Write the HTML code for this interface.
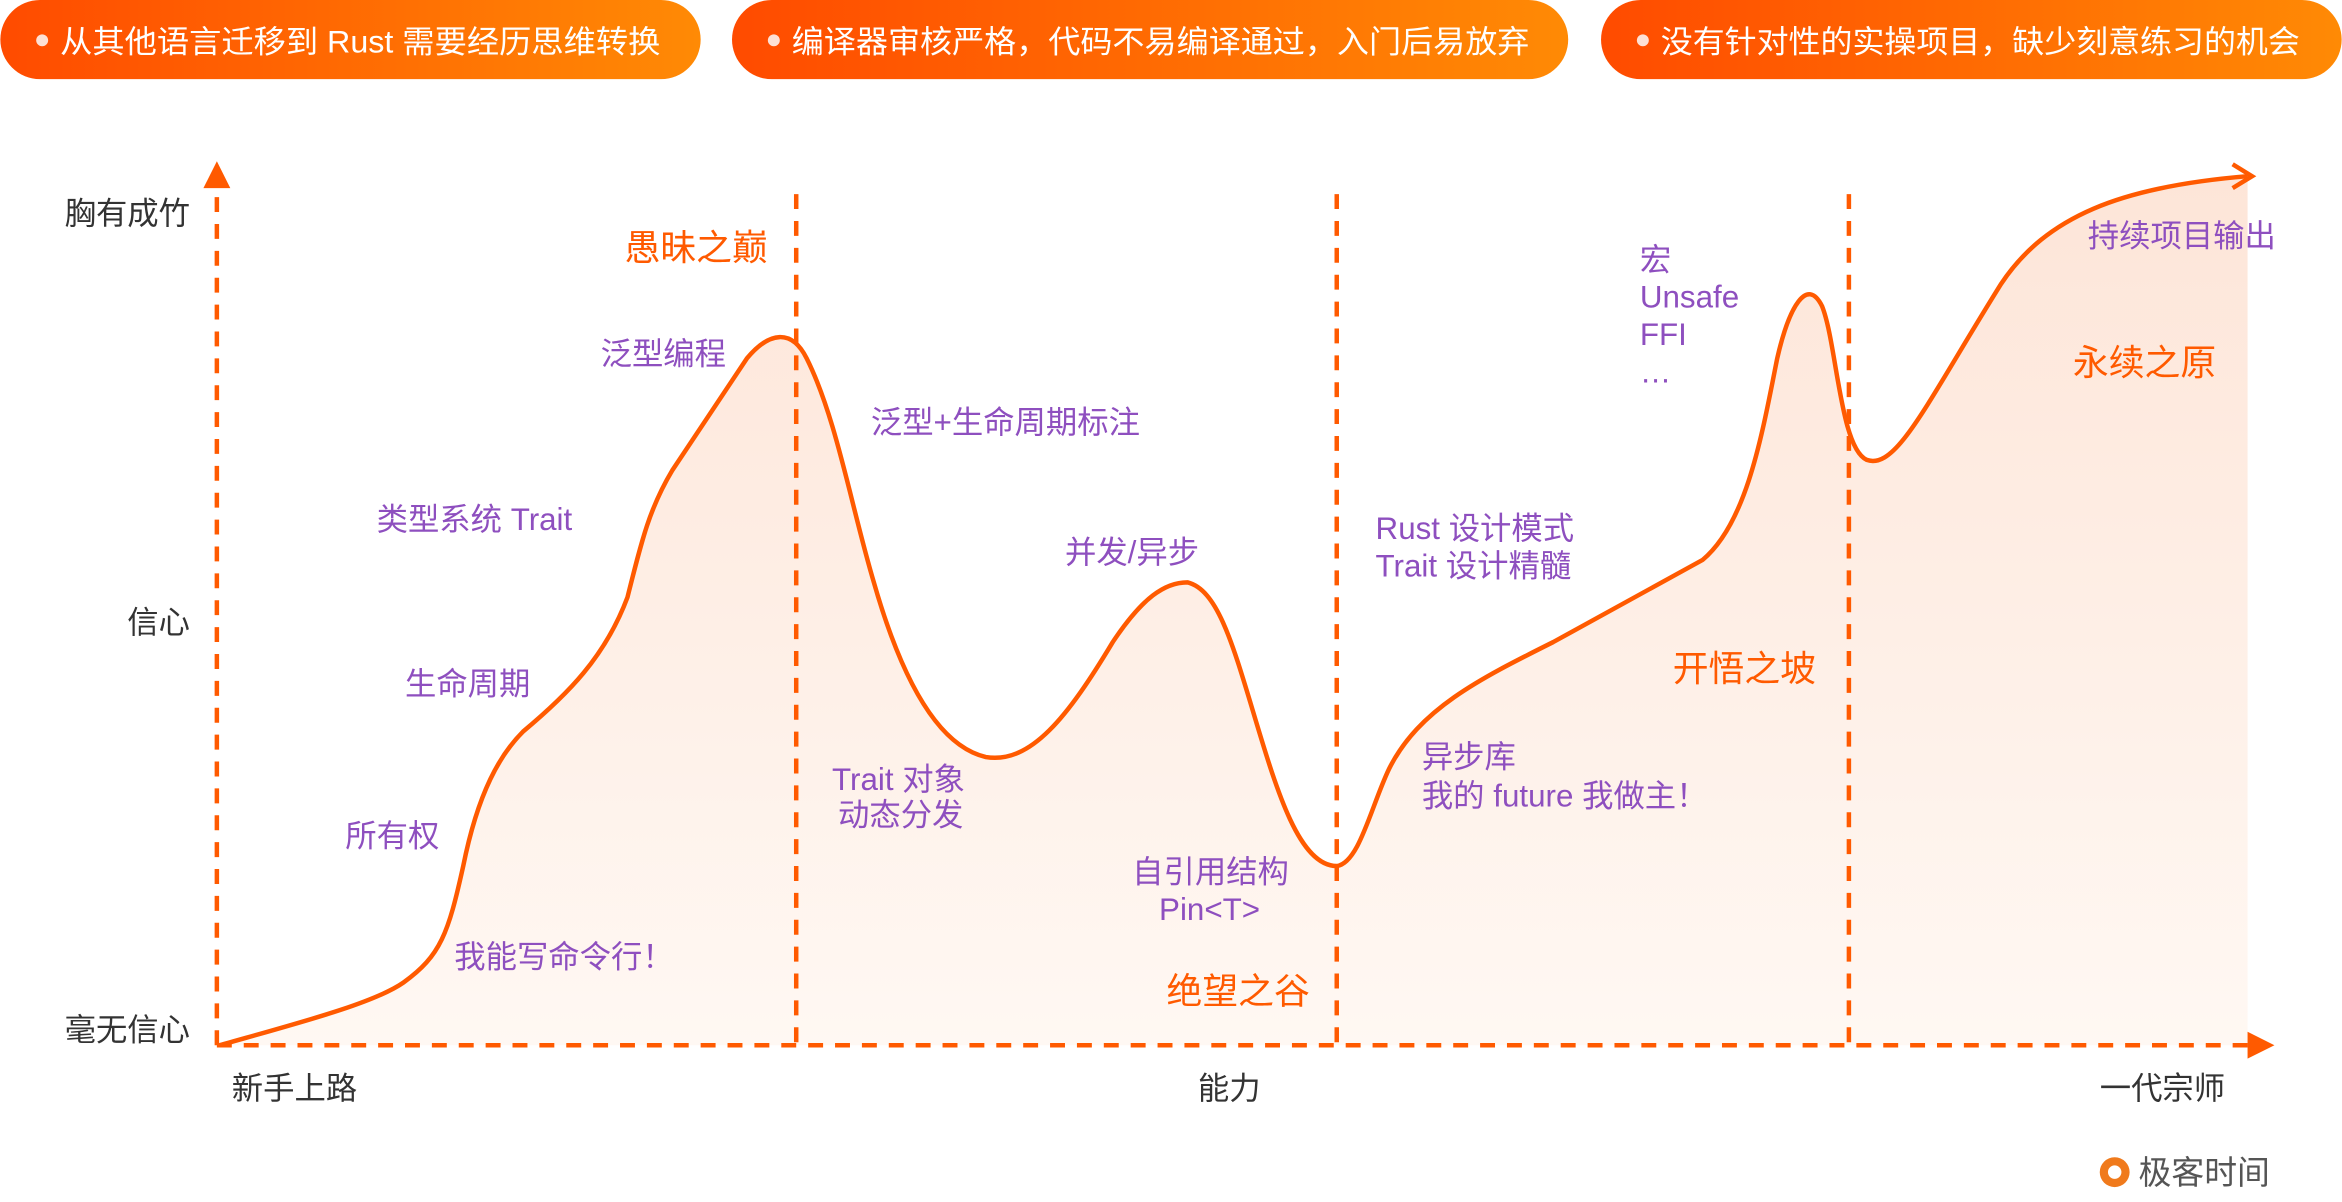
<!DOCTYPE html>
<html><head><meta charset="utf-8"><style>
html,body{margin:0;padding:0;background:#fff}
svg{display:block}
text{font-family:"Liberation Sans","Noto Sans CJK SC",sans-serif}
</style></head><body>
<svg width="2342" height="1202" viewBox="0 0 1568 805" xmlns="http://www.w3.org/2000/svg">
<defs>
<linearGradient id="pg" x1="0" x2="1" y1="0" y2="0"><stop offset="0" stop-color="#ff4b00"/><stop offset="1" stop-color="#ff8a05"/></linearGradient>
<linearGradient id="fg" x1="0" x2="0" y1="0" y2="1"><stop offset="0" stop-color="#fde5d8"/><stop offset="1" stop-color="#fff8f3"/></linearGradient>
</defs>
<rect x="0" y="0" width="469" height="53" rx="26.5" fill="url(#pg)"/>
<rect x="490" y="0" width="560" height="53" rx="26.5" fill="url(#pg)"/>
<rect x="1072" y="0" width="496" height="53" rx="26.5" fill="url(#pg)"/>
<g fill="#fde0d5"><circle cx="28" cy="27" r="4"/><circle cx="518" cy="27" r="4"/><circle cx="1100" cy="27" r="4"/></g>
<g fill="#fff" font-size="21"><text x="40" y="35" textLength="402" lengthAdjust="spacingAndGlyphs">从其他语言迁移到 Rust 需要经历思维转换</text><text x="530" y="35" textLength="494" lengthAdjust="spacingAndGlyphs">编译器审核严格，代码不易编译通过，入门后易放弃</text><text x="1112" y="35" textLength="428" lengthAdjust="spacingAndGlyphs">没有针对性的实操项目，缺少刻意练习的机会</text></g>
<path d="M147,700 C200,685 250,672 270,658 C295,640 300,625 310,580 C320,530 335,505 350,490 C380,465 405,440 420,400 C430,360 435,340 450,315 L500,240 C515,222 530,220 540,240 C560,280 570,340 585,390 C605,460 630,500 660,507 C690,512 715,480 745,430 C765,400 780,390 795,390 C815,395 825,430 840,480 C855,530 870,580 895,580 C910,578 918,540 930,515 C950,475 990,455 1040,430 L1140,375 C1170,350 1180,290 1190,240 C1198,205 1210,185 1220,205 C1230,230 1232,300 1250,308 C1270,315 1290,270 1340,190 C1370,145 1420,125 1505,118 L1505,700 L147,700 Z" fill="url(#fg)"/>
<path d="M147,700 C200,685 250,672 270,658 C295,640 300,625 310,580 C320,530 335,505 350,490 C380,465 405,440 420,400 C430,360 435,340 450,315 L500,240 C515,222 530,220 540,240 C560,280 570,340 585,390 C605,460 630,500 660,507 C690,512 715,480 745,430 C765,400 780,390 795,390 C815,395 825,430 840,480 C855,530 870,580 895,580 C910,578 918,540 930,515 C950,475 990,455 1040,430 L1140,375 C1170,350 1180,290 1190,240 C1198,205 1210,185 1220,205 C1230,230 1232,300 1250,308 C1270,315 1290,270 1340,190 C1370,145 1420,125 1505,118" fill="none" stroke="#ff5a00" stroke-width="3"/>
<path d="M1495,110 L1508,118 L1495,126" fill="none" stroke="#ff5a00" stroke-width="3"/>
<g stroke="#ff5a00" stroke-width="3" stroke-dasharray="10,8" fill="none">
<line x1="145" y1="700" x2="145" y2="125"/><line x1="145" y1="700" x2="1505" y2="700"/>
<line x1="533" y1="130" x2="533" y2="700"/><line x1="895" y1="130" x2="895" y2="700"/><line x1="1238" y1="130" x2="1238" y2="700"/>
</g>
<path d="M136,126 L145,108 L154,126 Z" fill="#ff5a00"/>
<path d="M1505,691 L1523,700 L1505,709 Z" fill="#ff5a00"/>
<g fill="#333" font-size="21">
<g text-anchor="end"><text x="127" y="150">胸有成竹</text><text x="127" y="424">信心</text><text x="127" y="697">毫无信心</text></g>
<text x="155" y="736">新手上路</text><text x="802" y="736">能力</text><text x="1406" y="736">一代宗师</text>
</g>
<g fill="#ff5a00" font-size="24">
<text x="418" y="174">愚昧之巅</text><text x="781" y="672">绝望之谷</text><text x="1120" y="456">开悟之坡</text><text x="1388" y="251">永续之原</text>
</g>
<g fill="#8e4fbf" font-size="21">
<text x="402" y="244">泛型编程</text><text x="252" y="355">类型系统 Trait</text><text x="271" y="465">生命周期</text><text x="231" y="567">所有权</text><text x="304" y="648">我能写命令行！</text>
<text x="583" y="290">泛型+生命周期标注</text><text x="713" y="377">并发/异步</text><text x="557" y="529">Trait 对象</text><text x="561" y="553">动态分发</text>
<text x="758" y="591">自引用结构</text><text x="776" y="616">Pin&lt;T&gt;</text>
<text x="921" y="361">Rust 设计模式</text><text x="921" y="386">Trait 设计精髓</text>
<text x="952" y="514">异步库</text><text x="952" y="540">我的 future 我做主！</text>
<text x="1098" y="181">宏</text><text x="1098" y="206">Unsafe</text><text x="1098" y="231">FFI</text><text x="1098" y="256">…</text>
<text x="1398" y="165">持续项目输出</text>
</g>
<circle cx="1416" cy="785" r="10" fill="#f07a1c"/><circle cx="1416" cy="785" r="4.5" fill="#fff"/>
<text x="1432" y="793" fill="#555" font-size="22">极客时间</text>
</svg>
</body></html>
